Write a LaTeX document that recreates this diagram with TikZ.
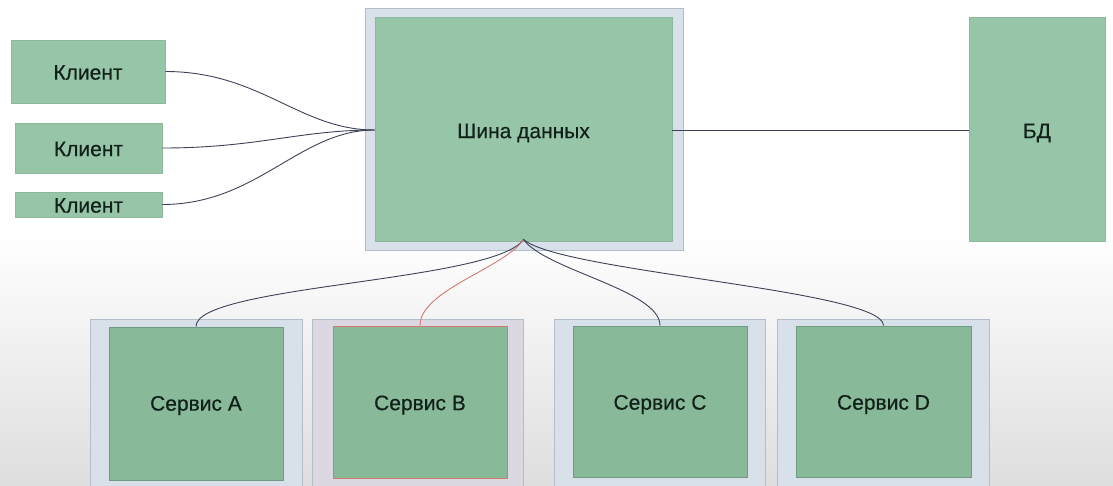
\documentclass[tikz,border=0pt]{standalone}
\usepackage{fontspec}
\setmainfont{Liberation Sans}[FakeBold=0.4]
\begin{document}
\begin{tikzpicture}[x=1pt,y=-1pt,
  greenbox/.style={draw=#1,line width=0.8pt,fill=boxgreen,inner sep=0pt},
  greenbox/.default=edgegreen,
  svcbox/.style={draw=svcedge,line width=1pt,fill=svcgreen,inner sep=0pt},
  lbl/.style={inner sep=0pt,text=txt,font=\fontsize{21}{24}\selectfont},
  frame/.style={draw=frameedge,line width=1pt,fill=framefill,inner sep=0pt},
  wire/.style={draw=wirecol,line width=0.9pt},
  redwire/.style={draw=redcol,line width=0.9pt}]
\definecolor{boxgreen}{HTML}{96C6A7}
\definecolor{svcgreen}{HTML}{88B998}
\definecolor{edgegreen}{HTML}{8CB89C}
\definecolor{svcedge}{HTML}{6F9C80}
\definecolor{frameedge}{HTML}{B4BEC8}
\definecolor{framefill}{HTML}{D8E1EA}
\definecolor{framepink}{HTML}{DCD8E2}
\definecolor{wirecol}{HTML}{3E4258}
\definecolor{redcol}{HTML}{D07A72}
\definecolor{txt}{HTML}{12201A}
\definecolor{bgbottom}{HTML}{DEDEDE}
\useasboundingbox (0,0) rectangle (1113,485);
\clip (0,0) rectangle (1113,485);
\fill[white] (0,0) rectangle (1113,250);
\shade[top color=white,bottom color=bgbottom] (0,235) rectangle (1113,485);
% clients
\node[greenbox,minimum width=154pt,minimum height=63pt] (c1) at (88,71.5) {};
\node[greenbox,minimum width=147pt,minimum height=50pt] (c2) at (88.5,148) {};
\node[greenbox,minimum width=147pt,minimum height=25pt] (c3) at (88.5,204.5) {};
\node[lbl] (t1) at ([yshift=-1pt]c1.center) {Клиент};
\node[lbl] (t2) at ([yshift=-1pt]c2.center) {Клиент};
\node[lbl] (t3) at ([yshift=-1pt]c3.center) {Клиент};
% bus
\node[frame,minimum width=318pt,minimum height=242pt] (busframe) at (524,129) {};
\node[greenbox,minimum width=297pt,minimum height=224pt] (bus) at (523.5,129) {};
\node[lbl] (tbus) at ([yshift=-4pt]bus.center) {Шина данных};
% db
\node[greenbox,minimum width=136pt,minimum height=224pt] (db) at (1037,129) {};
\node[lbl] (tdb) at ([yshift=-4pt]db.center) {БД};
% services
\node[frame,minimum width=212pt,minimum height=170pt] (fa) at (196,404) {};
\node[frame,fill=framepink,minimum width=211pt,minimum height=170pt] (fb) at (417.5,404) {};
\node[frame,minimum width=211pt,minimum height=170pt] (fc) at (659.5,404) {};
\node[frame,minimum width=212pt,minimum height=170pt] (fd) at (883,404) {};
\node[svcbox,minimum width=174pt,minimum height=153pt] (sa) at (196,403.5) {};
\node[svcbox,draw=redcol,minimum width=174pt,minimum height=152pt] (sb) at (420,402) {};
\node[svcbox,minimum width=174pt,minimum height=151pt] (sc) at (660,401.5) {};
\node[svcbox,minimum width=175pt,minimum height=151pt] (sd) at (883.5,401.5) {};
\node[lbl] (ta) at ([yshift=-2pt]sa.center) {Сервис A};
\node[lbl] (tb) at ([yshift=-3pt]sb.center) {Сервис B};
\node[lbl] (tc) at ([yshift=-3pt]sc.center) {Сервис C};
\node[lbl] (td) at ([yshift=-3pt]sd.center) {Сервис D};
% connection points
\coordinate (busin) at ([yshift=-1pt]bus.west);
\coordinate (busbot) at ([yshift=2pt]bus.south);
% client wires
\draw[wire] (c1.east) .. controls +(95,0) and +(-75,0) .. (busin);
\draw[wire] (c2.east) .. controls +(95,0) and +(-75,0) .. (busin);
\draw[wire] (c3.east) .. controls +(95,0) and +(-75,0) .. (busin);
% db wire
\draw[wire] ([yshift=-1pt]bus.east) -- ([yshift=-1pt]db.west);
% service wires
\draw[wire] (busbot) .. controls (495,282) and (196,285) .. (sa.north);
\draw[redwire] (busbot) .. controls (505,268) and (420,290) .. (sb.north);
\draw[wire] (busbot) .. controls (545,270) and (660,290) .. (sc.north);
\draw[wire] (busbot) .. controls (560,272) and (883,290) .. (sd.north);
\end{tikzpicture}
\end{document}
